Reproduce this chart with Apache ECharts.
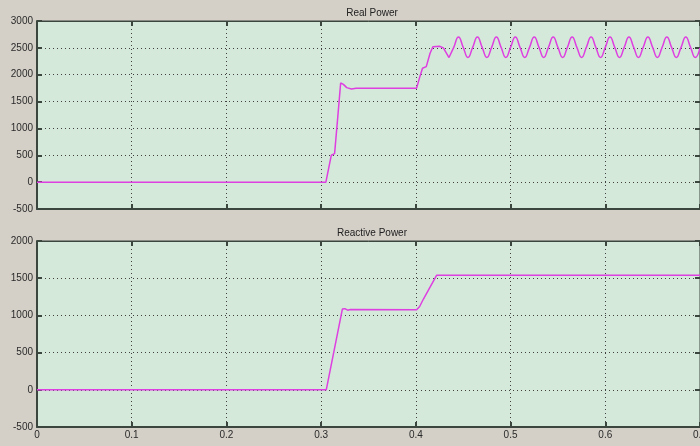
<!DOCTYPE html>
<html>
<head>
<meta charset="utf-8">
<script src="https://cdn.jsdelivr.net/npm/echarts@6/dist/echarts.min.js"></script>
<style>
  html, body { margin: 0; padding: 0; background: #d4d0c8; }
  #chart { width: 700px; height: 446px; }
</style>
</head>
<body>
<div id="chart"></div>
<script>
// real power: transient part (time, value)
const realTime = [0, 0.305, 0.3107, 0.3142, 0.3175, 0.3206, 0.3235, 0.327, 0.332, 0.337, 0.4008, 0.404, 0.407, 0.411, 0.415, 0.418, 0.425, 0.429, 0.435];
const realValue = [0, 0, 500, 530, 1200, 1846, 1820, 1760, 1735, 1748, 1750, 1950, 2120, 2150, 2400, 2520, 2530, 2500, 2320];

// real power: 50 Hz ripple after 0.435 s (peaks / mids / troughs)
const rippleTime = [0.435, 0.44, 0.445, 0.45, 0.455, 0.46, 0.465, 0.47, 0.475, 0.48, 0.485, 0.49, 0.495, 0.5,
  0.505, 0.51, 0.515, 0.52, 0.525, 0.53, 0.535, 0.54, 0.545, 0.55, 0.555, 0.56, 0.565, 0.57, 0.575, 0.58,
  0.585, 0.59, 0.595, 0.6, 0.605, 0.61, 0.615, 0.62, 0.625, 0.63, 0.635, 0.64, 0.645, 0.65, 0.655, 0.66,
  0.665, 0.67, 0.675, 0.68, 0.685, 0.69, 0.695, 0.7];
const rippleValue = [2320, 2510, 2700, 2510, 2320, 2510, 2700, 2510, 2320, 2510, 2700, 2510, 2320, 2510,
  2700, 2510, 2320, 2510, 2700, 2510, 2320, 2510, 2700, 2510, 2320, 2510, 2700, 2510, 2320, 2510,
  2700, 2510, 2320, 2510, 2700, 2510, 2320, 2510, 2700, 2510, 2320, 2510, 2700, 2510, 2320, 2510,
  2700, 2510, 2320, 2510, 2700, 2510, 2320, 2500];

// reactive power
const reactTime = [0, 0.3054, 0.3224, 0.325, 0.328, 0.331, 0.4008, 0.404, 0.408, 0.422, 0.7];
const reactValue = [0, 0, 1085, 1090, 1070, 1078, 1075, 1120, 1220, 1540, 1540];

const titles = ['Real Power', 'Reactive Power'];

const pairs = (t, v) => t.map((x, i) => [x, v[i]]);

const lineColor = '#de3fe0';
const frameColor = '#3b473e';
const labelStyle = { color: '#2a2a2a', fontSize: 10, fontFamily: 'Liberation Sans' };
const plain = v => String(+v.toFixed(2));

function xAxisFor(gridIndex, withLabels, pos) {
  const primary = pos === 'bottom';
  return {
    type: 'value', gridIndex: gridIndex, position: pos,
    min: 0, max: 0.7, interval: 0.1,
    axisLine: { show: true, onZero: false, lineStyle: { color: frameColor, width: primary ? 2 : 1 } },
    axisTick: { show: true, inside: true, length: 5, lineStyle: { color: frameColor, width: 2 } },
    axisLabel: { show: withLabels && primary, margin: 3, formatter: plain, ...labelStyle },
    splitLine: { show: primary, lineStyle: { type: [1, 3], color: '#404040', width: 1 } }
  };
}

function yAxisFor(gridIndex, min, max, pos) {
  const primary = pos === 'left';
  return {
    type: 'value', gridIndex: gridIndex, position: pos,
    min: min, max: max, interval: 500,
    axisLine: { show: true, onZero: false, lineStyle: { color: frameColor, width: primary ? 2 : 1 } },
    axisTick: { show: true, inside: true, length: 5, lineStyle: { color: frameColor, width: 2 } },
    axisLabel: { show: primary, margin: 4, formatter: plain, ...labelStyle },
    splitLine: { show: primary, lineStyle: { type: [1, 3], color: '#404040', width: 1 } }
  };
}

const chart = echarts.init(document.getElementById('chart'));
chart.setOption({
  backgroundColor: '#d4d0c8',
  animation: false,
  title: [
    { text: titles[0], left: 367, top: 3, textAlign: 'center',
      textStyle: { fontSize: 10, fontWeight: 'normal', color: '#222', fontFamily: 'Liberation Sans' } },
    { text: titles[1], left: 367, top: 223, textAlign: 'center',
      textStyle: { fontSize: 10, fontWeight: 'normal', color: '#222', fontFamily: 'Liberation Sans' } }
  ],
  grid: [
    { left: 37, top: 21, width: 663, height: 188, outerBoundsMode: 'none', containLabel: false,
      show: true, backgroundColor: '#d5e9da', borderColor: frameColor, borderWidth: 1 },
    { left: 37, top: 241, width: 663, height: 186, outerBoundsMode: 'none', containLabel: false,
      show: true, backgroundColor: '#d5e9da', borderColor: frameColor, borderWidth: 1 }
  ],
  xAxis: [
    xAxisFor(0, false, 'bottom'),
    xAxisFor(0, false, 'top'),
    xAxisFor(1, true, 'bottom'),
    xAxisFor(1, false, 'top')
  ],
  yAxis: [
    yAxisFor(0, -500, 3000, 'left'),
    yAxisFor(0, -500, 3000, 'right'),
    yAxisFor(1, -500, 2000, 'left'),
    yAxisFor(1, -500, 2000, 'right')
  ],
  series: [
    { name: 'Real Power', type: 'line', xAxisIndex: 0, yAxisIndex: 0, showSymbol: false,
      data: pairs(realTime, realValue), lineStyle: { color: lineColor, width: 1.5 } },
    { name: 'Real Power ripple', type: 'line', xAxisIndex: 0, yAxisIndex: 0, showSymbol: false, smooth: 0.5,
      data: pairs(rippleTime, rippleValue), lineStyle: { color: lineColor, width: 1.5 } },
    { name: 'Reactive Power', type: 'line', xAxisIndex: 2, yAxisIndex: 2, showSymbol: false,
      data: pairs(reactTime, reactValue), lineStyle: { color: lineColor, width: 1.5 } }
  ]
});
</script>
</body>
</html>
